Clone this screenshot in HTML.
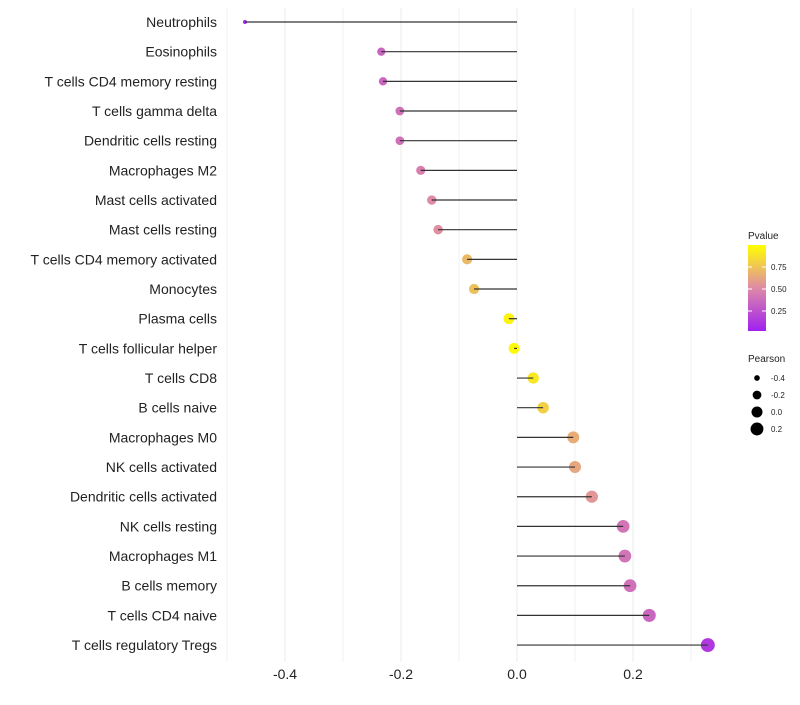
<!DOCTYPE html>
<html><head><meta charset="utf-8"><style>
body{margin:0;background:#fff}
svg text{font-family:"Liberation Sans",sans-serif}
</style></head><body>
<svg id="c" width="800" height="700"></svg>
<script>
const categories=["Neutrophils","Eosinophils","T cells CD4 memory resting","T cells gamma delta","Dendritic cells resting","Macrophages M2","Mast cells activated","Mast cells resting","T cells CD4 memory activated","Monocytes","Plasma cells","T cells follicular helper","T cells CD8","B cells naive","Macrophages M0","NK cells activated","Dendritic cells activated","NK cells resting","Macrophages M1","B cells memory","T cells CD4 naive","T cells regulatory  Tregs"];
const pearson=[-0.469,-0.234,-0.231,-0.202,-0.202,-0.166,-0.147,-0.136,-0.086,-0.074,-0.014,-0.005,0.028,0.045,0.097,0.100,0.129,0.183,0.186,0.195,0.228,0.329];
const pvalue=[0.05,0.33,0.33,0.38,0.38,0.45,0.5,0.52,0.7,0.73,0.95,0.98,0.9,0.8,0.65,0.62,0.55,0.4,0.4,0.38,0.33,0.12];
const xTicks=[-0.4,-0.2,0.0,0.2];
const xMinor=[-0.5,-0.3,-0.1,0.1,0.3];
const pTicks=[0.25,0.5,0.75];
const sizeTicks=[-0.4,-0.2,0.0,0.2];
const NS="http://www.w3.org/2000/svg",svg=document.getElementById('c');
function el(t,a,p){const e=document.createElementNS(NS,t);for(const k in a)e.setAttribute(k,a[k]);(p||svg).appendChild(e);return e;}
const x=v=>517+v*580;
const y=i=>22+i*29.67;
const r=v=>Math.sqrt(Math.max(1,4+(v+0.47)*56));
function lerp(a,b,t){return a.map((c,i)=>Math.round(c+(b[i]-c)*t));}
function col(p){const s=[[160,32,240],[222,138,168],[255,255,0]];const c=p<0.5?lerp(s[0],s[1],p/0.5):lerp(s[1],s[2],(p-0.5)/0.5);return `rgb(${c})`;}
const yTop=8,yBot=662;
xMinor.forEach(v=>{const l=el('line',{x1:x(v),x2:x(v),y1:yTop,y2:yBot,stroke:'#f2f2f2','stroke-width':1});

});
xTicks.forEach(v=>{const l=el('line',{x1:x(v),x2:x(v),y1:yTop,y2:yBot,stroke:'#ebebeb','stroke-width':1});


const t=el('text',{x:x(v),y:679,'text-anchor':'middle','font-size':14,fill:'#222'});t.textContent=v.toFixed(1);

});
categories.forEach((c,i)=>{
const t=el('text',{x:217,y:y(i)+5,'text-anchor':'end','font-size':14,fill:'#222'});t.textContent=c;


const d=el('circle',{cx:x(pearson[i]),cy:y(i),r:r(pearson[i]),fill:col(pvalue[i])});


const l=el('line',{x1:x(0),x2:x(pearson[i]),y1:y(i),y2:y(i),stroke:'#333','stroke-width':1.2});


});
const lt=el('text',{x:748,y:239,'font-size':10,fill:'#222'});lt.textContent='Pvalue';


const defs=el('defs',{});const g=el('linearGradient',{id:'pg',x1:0,y1:1,x2:0,y2:0},defs);
[0,0.25,0.5,0.75,1].forEach(p=>el('stop',{offset:p,'stop-color':col(p)},g));
const cb=el('rect',{x:748,y:245,width:18,height:86,fill:'url(#pg)'});


const py=p=>333-p*88;
pTicks.forEach(p=>{el('line',{x1:748,x2:752,y1:py(p),y2:py(p),stroke:'#fff'});el('line',{x1:762,x2:766,y1:py(p),y2:py(p),stroke:'#fff'});
const t=el('text',{x:771,y:py(p)+3,'font-size':8,fill:'#222'});t.textContent=p.toFixed(2);

});
const st=el('text',{x:748,y:362,'font-size':10,fill:'#222'});st.textContent='Pearson';


sizeTicks.forEach((v,i)=>{const cy=378+i*17;
const c=el('circle',{cx:757,cy:cy,r:r(v),fill:'#000'});


const t=el('text',{x:771,y:cy+3,'font-size':8,fill:'#222'});t.textContent=v.toFixed(1);

});
</script>
</body></html>
